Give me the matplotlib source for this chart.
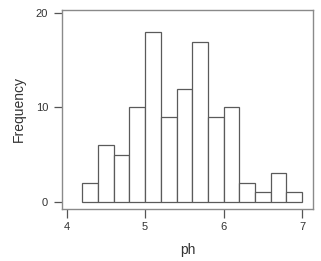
import numpy as np
import matplotlib
matplotlib.use("Agg")
import matplotlib.pyplot as plt

# histogram of ph, bin width 0.2
bin_edges = [4.2, 4.4, 4.6, 4.8, 5.0, 5.2, 5.4, 5.6, 5.8, 6.0, 6.2, 6.4, 6.6, 6.8, 7.0]
counts = [2, 6, 5, 10, 18, 9, 12, 17, 9, 10, 2, 1, 3, 1]
x_ticks = [4, 5, 6, 7]
y_ticks = [0, 10, 20]

plt.rcParams['font.family'] = ['Liberation Sans', 'DejaVu Sans']

fig = plt.figure(figsize=(3.21, 2.61), dpi=100)
fig.patch.set_facecolor('white')
ax = fig.add_axes([62 / 321, 52 / 261, 251 / 321, 199 / 261])

lefts = np.array(bin_edges[:-1])
widths = np.diff(bin_edges)
ax.bar(lefts, counts, width=widths, align='edge', color='white',
       edgecolor='#5a5a5a', linewidth=0.9)

ax.set_xlim(3.94, 7.14)
ax.set_ylim(-0.78, 20.35)
ax.set_xticks(x_ticks)
ax.set_yticks(y_ticks)

for s in ax.spines.values():
    s.set_color('#8a8a8a')
    s.set_linewidth(1.0)

ax.tick_params(axis='both', direction='out', colors='#555555',
               labelcolor='#333333', labelsize=8, width=0.9)
ax.tick_params(axis='y', length=6, pad=4)
ax.tick_params(axis='x', length=6.5, pad=3)

ax.set_xlabel('ph', fontsize=10, color='#333333', labelpad=8)
ax.set_ylabel('Frequency', fontsize=10, color='#333333', labelpad=7)

fig.savefig('out.png', dpi=100)
